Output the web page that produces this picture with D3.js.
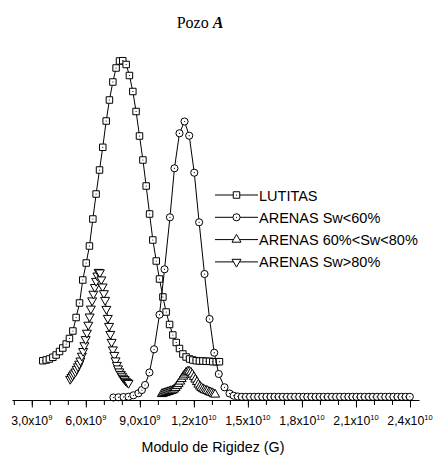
<!DOCTYPE html>
<html>
<head>
<meta charset="utf-8">
<script src="https://cdn.jsdelivr.net/npm/d3@7"></script>
<style>
  body { margin: 0; background: #fff; }
  svg { display: block; }
</style>
</head>
<body>
<svg id="chart" width="440" height="457"></svg>
<script>
// G values are in units of 1e9 Pa, counts are relative frequency
var lutitasX = [3.61, 3.80, 3.98, 4.17, 4.35, 4.54, 4.72, 4.91, 5.09, 5.28, 5.46, 5.65, 5.83, 6.02, 6.20, 6.39, 6.57, 6.76,
    6.94, 7.13, 7.31, 7.50, 7.68, 7.87, 8.05, 8.24, 8.42, 8.61, 8.79, 8.98, 9.17, 9.35, 9.54, 9.72, 9.91, 10.09,
    10.28, 10.46, 10.65, 10.83, 11.02, 11.20, 11.39, 11.57, 11.76, 11.94, 12.13, 12.31, 12.50, 12.68, 12.87, 13.05, 13.24, 13.42];
var lutitasY = [37.3, 38, 39, 40.7, 43, 46.5, 50, 54, 59.5, 67, 80.5, 95, 118, 135, 152, 179, 204, 228,
    250.7, 277, 298, 316, 330, 337, 337.3, 333.5, 322.5, 306.5, 286.5, 262, 238, 212, 184, 158, 137, 119,
    101, 86, 73.5, 63, 55.5, 49.5, 44, 41, 39, 38, 37.3, 37, 37, 36.7, 36.7, 36.3, 36.3, 36.3];

var arenas60X = [7.53, 7.81, 8.09, 8.37, 8.64, 8.92, 9.11, 9.29, 9.53, 9.79, 10.09, 10.37, 10.67, 10.92, 11.20, 11.48,
    11.74, 12.02, 12.29, 12.59, 12.87, 13.13, 13.38, 13.70, 13.98,
    14.21, 14.44, 14.66, 14.89, 15.12, 15.35, 15.57, 15.80, 16.03, 16.26, 16.48, 16.71, 16.94, 17.17, 17.39, 17.62,
    17.85, 18.08, 18.30, 18.53, 18.76, 18.99, 19.21, 19.44, 19.67, 19.90, 20.12, 20.35, 20.58, 20.81, 21.03, 21.26,
    21.49, 21.72, 21.94, 22.17, 22.40, 22.63, 22.85, 23.08, 23.31, 23.54, 23.76, 23.99];
var arenas60Y = [0.5, 0.7, 1, 1.3, 2.7, 4.7, 8, 13, 25.5, 48.7, 83.3, 128.7, 180.7, 229.7, 264.7, 276.5,
    262.3, 225.3, 175.7, 124, 79, 45.3, 24, 10.7, 4.5,
    2.3, 1.5, 1.2, 1.2, 1.2, 1.2, 1.2, 1.2, 1.2, 1.2, 1.2, 1.2, 1.2, 1.2, 1.2, 1.2,
    1.2, 1.2, 1.2, 1.2, 1.2, 1.2, 1.2, 1.2, 1.2, 1.2, 1.2, 1.2, 1.2, 1.2, 1.2, 1.2,
    1.2, 1.2, 1.2, 1.2, 1.2, 1.2, 1.2, 1.2, 1.2, 1.2, 1.2, 1.2];

var arenas6080X = [10.22, 10.30, 10.39, 10.47, 10.56, 10.64, 10.73, 10.81, 10.90, 10.98, 11.07, 11.15, 11.24, 11.32,
    11.41, 11.49, 11.57, 11.66, 11.74, 11.83, 11.91, 12.00, 12.08, 12.17, 12.25, 12.34, 12.42, 12.51, 12.59, 12.68,
    12.76, 12.85, 12.93, 13.02, 13.10, 13.18];
var arenas6080Y = [4, 4.5, 5, 5.5, 6, 6.5, 7, 7.5, 8.5, 10, 12, 14, 16.5, 19, 21.5, 23.5, 25.5, 26.5, 26.5, 25.5,
    23.5, 21, 18.5, 16, 13.5, 11.5, 10, 9, 8, 7.5, 7, 6, 5.5, 5, 4, 3.5];

var arenas80X = [5.13, 5.20, 5.27, 5.34, 5.42, 5.49, 5.56, 5.63, 5.70, 5.78, 5.85, 5.92, 5.99, 6.06, 6.14, 6.21, 6.28,
    6.35, 6.42, 6.50, 6.57, 6.64, 6.71, 6.78, 6.86, 6.93, 7.00, 7.07, 7.14, 7.22, 7.29, 7.36, 7.43, 7.50, 7.58, 7.65,
    7.72, 7.79, 7.86, 7.94, 8.01, 8.08, 8.15, 8.22, 8.30, 8.37];
var arenas80Y = [19, 20.8, 22.6, 24.5, 26.4, 29, 31.6, 34.2, 37.4, 42.2, 46.9, 52.7, 58.8, 65.2, 73.2, 81.4, 89.3,
    97.5, 104.2, 110.9, 117, 122.4, 126, 125.5, 118.5, 111.4, 104.7, 98, 89, 80, 72, 64, 56, 48.5, 43, 37.5,
    33, 29.5, 26.5, 24, 22.2, 20.2, 18.8, 17.2, 16, 15];

var seriesNames = ["LUTITAS", "ARENAS Sw<60%", "ARENAS 60%<Sw<80%", "ARENAS Sw>80%"];
var majorTicks = [3, 6, 9, 12, 15, 18, 21, 24];
var tickMantissa = ["3,0", "6,0", "9,0", "1,2", "1,5", "1,8", "2,1", "2,4"];
var tickExponent = ["9", "9", "9", "10", "10", "10", "10", "10"];

var series = [
    { name: seriesNames[0], xs: lutitasX, ys: lutitasY, marker: "square" },
    { name: seriesNames[1], xs: arenas60X, ys: arenas60Y, marker: "circle" },
    { name: seriesNames[2], xs: arenas6080X, ys: arenas6080Y, marker: "up" },
    { name: seriesNames[3], xs: arenas80X, ys: arenas80Y, marker: "down" }
];

var svg = d3.select("#chart");
var sans = "'Liberation Sans', Arial, sans-serif";

var x = d3.scaleLinear().domain([1.9, 24.5]).range([12, 419]);
var y = d3.scaleLinear().domain([0, 340]).range([398, 58]);

function drawMarker(sel, type) {
    var path;
    if (type === "square") path = d3.symbol().type(d3.symbolSquare).size(42)();
    else if (type === "circle") path = d3.symbol().type(d3.symbolCircle).size(40)();
    else path = d3.symbol().type(d3.symbolTriangle).size(35)();
    var p = sel.append("path")
        .attr("d", path)
        .attr("fill", "#fff")
        .attr("stroke", "#000")
        .attr("stroke-width", 1);
    if (type === "down") p.attr("transform", "rotate(180)");
    if (type === "square" || type === "circle") {
        sel.append("circle").attr("r", 0.6).attr("fill", "#000");
    }
}

var line = d3.line()
    .x(function(d) { return x(d[0]); })
    .y(function(d) { return y(d[1]); });

series.forEach(function(s) {
    var pts = s.xs.map(function(v, i) { return [v, s.ys[i]]; });
    var g = svg.append("g");
    g.append("path")
        .datum(pts)
        .attr("fill", "none")
        .attr("stroke", "#000")
        .attr("stroke-width", 1)
        .attr("d", line);
    g.selectAll("g.pt")
        .data(pts)
        .enter().append("g")
        .attr("class", "pt")
        .attr("transform", function(d) { return "translate(" + x(d[0]) + "," + y(d[1]) + ")"; })
        .each(function() { drawMarker(d3.select(this), s.marker); });
});

// X axis: minor ticks every 1e9, major every 3e9
var axisY = 400;
svg.append("g")
    .attr("transform", "translate(0," + axisY + ")")
    .call(d3.axisBottom(x).tickValues(d3.range(2, 25)).tickSize(5).tickSizeOuter(0).tickFormat(""))
    .call(function(g) { g.select(".domain").attr("stroke-width", 1); });

var major = svg.append("g")
    .attr("transform", "translate(0," + axisY + ")")
    .call(d3.axisBottom(x).tickValues(majorTicks).tickSize(7.5).tickSizeOuter(0).tickFormat(""));
major.select(".domain").remove();

majorTicks.forEach(function(v, i) {
    var t = svg.append("text")
        .attr("x", x(v))
        .attr("y", 425)
        .attr("text-anchor", "middle")
        .attr("font-family", sans)
        .attr("font-size", 12.3)
        .attr("fill", "#000");
    t.append("tspan").text(tickMantissa[i] + "x10");
    t.append("tspan").attr("dy", -5.5).attr("font-size", 7.5).text(tickExponent[i]);
});

svg.append("text")
    .attr("x", 213)
    .attr("y", 452)
    .attr("text-anchor", "middle")
    .attr("font-family", sans)
    .attr("font-size", 14.3)
    .text("Modulo de Rigidez (G)");

// Title
var title = svg.append("text")
    .attr("x", 200)
    .attr("y", 28)
    .attr("text-anchor", "middle")
    .attr("font-family", "'Liberation Serif', 'Times New Roman', serif")
    .attr("font-size", 16);
title.append("tspan").text("Pozo ");
title.append("tspan").attr("font-weight", "bold").attr("font-style", "italic").text("A");

// Legend
var legend = svg.append("g");
series.forEach(function(s, i) {
    var ly = 195 + i * 22.3;
    var row = legend.append("g").attr("transform", "translate(0," + ly + ")");
    row.append("line")
        .attr("x1", 215).attr("x2", 258)
        .attr("y1", 0).attr("y2", 0)
        .attr("stroke", "#000").attr("stroke-width", 1);
    var m = row.append("g").attr("transform", "translate(236.5,0)");
    drawMarker(m, s.marker);
    row.append("text")
        .attr("x", 259)
        .attr("y", 5.5)
        .attr("font-family", sans)
        .attr("font-size", 14.5)
        .text(s.name);
});
</script>
</body>
</html>
